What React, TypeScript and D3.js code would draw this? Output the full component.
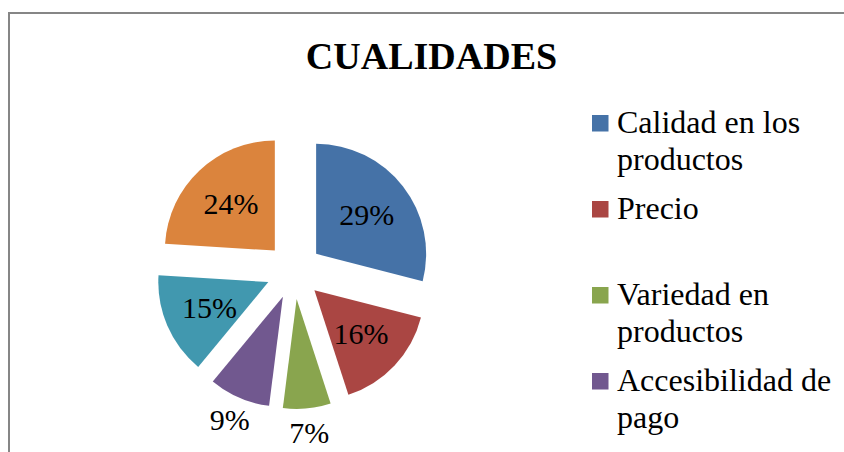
import React from "react";
import * as d3 from "d3";

// data
const categories = [
  "Calidad en los productos",
  "Precio",
  "Variedad en productos",
  "Accesibilidad de pago",
  "Atención al cliente",
  "Ubicación",
];
const percents = [29, 16, 7, 9, 15, 24];
const colors = ["#4572A7", "#AA4643", "#89A54E", "#71588F", "#4198AF", "#DB843D"];

const width = 844;
const height = 452;
const cx = 294;
const cy = 271;
const radius = 110;
const explode = 28;
const serif = "'Liberation Serif', 'Times New Roman', serif";

// wrap legend text to a max width, measured with canvas
function wrapText(text: string, maxWidth: number, font: string): string[] {
  const ctx = document.createElement("canvas").getContext("2d");
  if (!ctx) return [text];
  ctx.font = font;
  const words = text.split(" ");
  const lines: string[] = [];
  let line = "";
  words.forEach((w) => {
    const test = line ? line + " " + w : w;
    if (ctx.measureText(test).width > maxWidth && line) {
      lines.push(line);
      line = w;
    } else {
      line = test;
    }
  });
  if (line) lines.push(line);
  return lines;
}

export default function App() {
  const pie = d3.pie<number>().sort(null).value((d) => d);
  const arcs = pie(percents);
  const arc = d3.arc<d3.PieArcDatum<number>>().innerRadius(0).outerRadius(radius);

  // legend layout
  const legendX = 592;
  const legendTop = 133; // first baseline
  const slot = 86;
  const lineH = 37;

  return (
    <svg
      width={width}
      height={height}
      style={{ position: "absolute", left: 0, top: 0, display: "block", background: "#fff" }}
    >
      <rect x={9} y={13} width={900} height={600} fill="#fff" stroke="#868686" strokeWidth={2} />

      <text
        x={431.5}
        y={69}
        textAnchor="middle"
        fontFamily={serif}
        fontWeight="bold"
        fontSize={38}
        fill="#000"
      >
        CUALIDADES
      </text>

      <g transform={`translate(${cx},${cy})`}>
        {arcs.map((a, i) => {
          const mid = (a.startAngle + a.endAngle) / 2;
          const dx = Math.sin(mid) * explode;
          const dy = -Math.cos(mid) * explode;
          const small = percents[i] < 10;
          const dist = small ? radius + 24 : 64;
          const lx = dx + Math.sin(mid) * dist;
          const ly = dy - Math.cos(mid) * dist;
          return (
            <g key={i}>
              <path d={arc(a) || ""} transform={`translate(${dx},${dy})`} fill={colors[i]} />
              <text
                x={lx}
                y={ly}
                textAnchor="middle"
                dominantBaseline="central"
                fontFamily={serif}
                fontSize={30}
                fill="#000"
              >
                {percents[i]}%
              </text>
            </g>
          );
        })}
      </g>

      <g>
        {categories.map((c, i) => {
          const base = legendTop + i * slot;
          if (base > height) return null;
          const lines = wrapText(c, 222, `32px ${serif}`);
          return (
            <g key={c}>
              <rect x={legendX} y={base - 18} width={16.5} height={16.5} fill={colors[i]} />
              <text x={legendX + 25} y={base} fontFamily={serif} fontSize={32} fill="#000">
                {lines.map((l, j) => (
                  <tspan key={j} x={legendX + 25} y={base + j * lineH}>
                    {l}
                  </tspan>
                ))}
              </text>
            </g>
          );
        })}
      </g>
    </svg>
  );
}
